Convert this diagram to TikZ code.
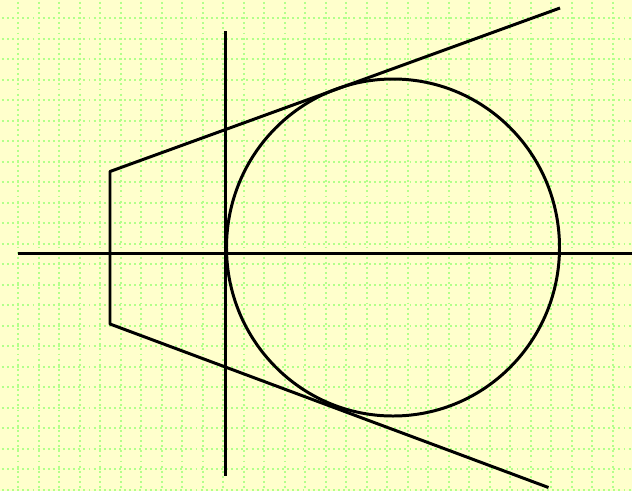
\documentclass[tikz,border=0pt]{standalone}
\usepackage{tikz}
\usetikzlibrary{calc}

\definecolor{paper}{HTML}{FFFFCC}
\definecolor{gridgreen}{HTML}{B2FF8A}

\begin{document}
\begin{tikzpicture}[x=0.02cm,y=-0.02cm]
\fill[paper] (0,0) rectangle (632,491);
\useasboundingbox (0,0) rectangle (632,491);

% dotted grid
\tikzset{gridline/.style={gridgreen,line width=1.3pt,dash pattern=on 1.1pt off 1.8pt,dash phase=0.55pt}}
\foreach \k in {0,...,30} {
  \draw[gridline] ({18.3+20.5*\k},18.3-20.5*1) -- ({18.3+20.5*\k},491);
}
\foreach \k in {0,...,23} {
  \draw[gridline] (18.3-20.5*1,{18.3+20.5*\k}) -- (632,{18.3+20.5*\k});
}

\coordinate (O) at (393,247.5);
\coordinate (A) at (110,171.5);
\coordinate (B) at (110,324);
\coordinate (C) at (560,8);
\coordinate (D) at (548.5,487.5);

\draw[line width=1.7pt] (17.5,253.5) -- (632,253.5);
\draw[line width=1.7pt] (225.5,31) -- (225.5,476);

\draw[line width=1.7pt] (O) ellipse [x radius=166.5,y radius=168.5];

\draw[line width=1.7pt,line join=round] (C) -- (A) -- (B) -- (D);
\end{tikzpicture}
\end{document}
